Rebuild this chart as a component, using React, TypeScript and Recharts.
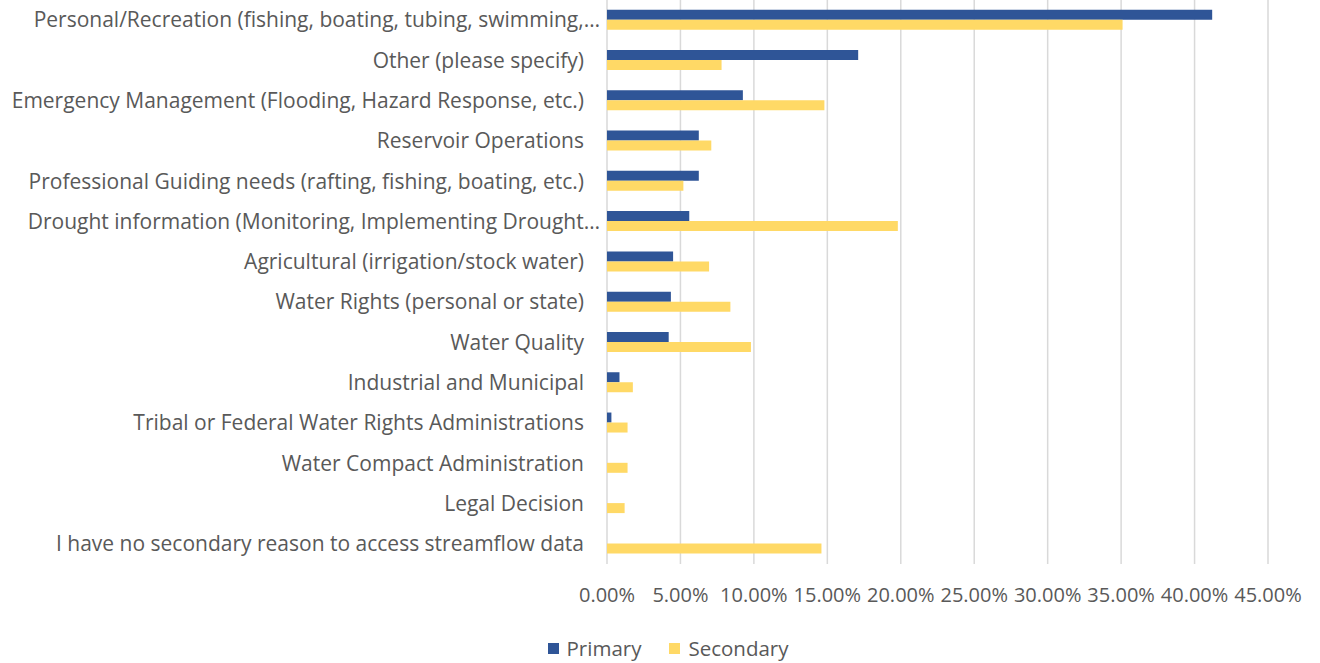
import React from 'react';
import { BarChart, Bar, XAxis, YAxis, CartesianGrid, Legend } from 'recharts';

// survey reasons, top to bottom as in the source chart
const categories = [
  'Personal/Recreation (fishing, boating, tubing, swimming,…',
  'Other (please specify)',
  'Emergency Management (Flooding, Hazard Response, etc.)',
  'Reservoir Operations',
  'Professional Guiding needs (rafting, fishing, boating, etc.)',
  'Drought information (Monitoring, Implementing Drought…',
  'Agricultural (irrigation/stock water)',
  'Water Rights (personal or state)',
  'Water Quality',
  'Industrial and Municipal',
  'Tribal or Federal Water Rights Administrations',
  'Water Compact Administration',
  'Legal Decision',
  'I have no secondary reason to access streamflow data',
];

// percent of respondents
const primary = [41.2, 17.1, 9.25, 6.25, 6.25, 5.6, 4.5, 4.35, 4.2, 0.85, 0.3, 0, 0, 0];
const secondary = [35.1, 7.8, 14.8, 7.1, 5.2, 19.8, 6.95, 8.4, 9.8, 1.76, 1.4, 1.4, 1.2, 14.6];

const xTicks = [0, 5, 10, 15, 20, 25, 30, 35, 40, 45];

const data = categories.map((name, i) => ({
  name,
  Primary: primary[i],
  Secondary: secondary[i],
}));

const FONT = '"Open Sans", sans-serif';
const TEXT = '#595959';
const BLUE = '#2F5597';
const YELLOW = '#FFD966';

// truncated labels hang a bit past the others, like Excel does
const CategoryTick = (props: any) => {
  const { x, y, payload } = props;
  const label: string = payload.value;
  const shift = label.endsWith('…') ? 16 : 0;
  return (
    <text
      x={x + shift}
      y={y}
      dy="0.35em"
      textAnchor="end"
      fill={TEXT}
      fontSize={21}
      fontFamily={FONT}
    >
      {label}
    </text>
  );
};

const LegendContent = () => (
  <div
    style={{
      display: 'flex',
      justifyContent: 'center',
      paddingLeft: 68,
      fontFamily: FONT,
      fontSize: 20.5,
      color: TEXT,
    }}
  >
    {[
      { name: 'Primary', color: BLUE },
      { name: 'Secondary', color: YELLOW },
    ].map((item) => (
      <div key={item.name} style={{ display: 'flex', alignItems: 'center', margin: '0 14px' }}>
        <span style={{ width: 11, height: 11, background: item.color, display: 'inline-block', marginRight: 8 }} />
        <span>{item.name}</span>
      </div>
    ))}
  </div>
);

export default function App() {
  return (
    <div style={{ position: 'absolute', left: 0, top: 0, width: 1320, height: 663, background: '#fff' }}>
      <BarChart
        width={1320}
        height={663}
        data={data}
        layout="vertical"
        margin={{ top: 0, right: 52, bottom: 0, left: 0 }}
        barCategoryGap="24%"
        barGap={0}
      >
        <CartesianGrid horizontal={false} stroke="#D9D9D9" strokeWidth={1.5} />
        <XAxis
          type="number"
          domain={[0, 45]}
          ticks={xTicks}
          interval={0}
          tickFormatter={(v: number) => `${v.toFixed(2)}%`}
          axisLine={false}
          tickLine={false}
          tickSize={0}
          tickMargin={24}
          height={70}
          tick={{ fill: TEXT, fontSize: 20, fontFamily: FONT }}
        />
        <YAxis
          type="category"
          dataKey="name"
          width={607}
          interval={0}
          axisLine={false}
          tickLine={false}
          tickSize={0}
          tickMargin={23}
          tick={<CategoryTick />}
        />
        <Legend verticalAlign="bottom" height={29} content={<LegendContent />} />
        <Bar dataKey="Primary" fill={BLUE} isAnimationActive={false} />
        <Bar dataKey="Secondary" fill={YELLOW} isAnimationActive={false} />
      </BarChart>
    </div>
  );
}
